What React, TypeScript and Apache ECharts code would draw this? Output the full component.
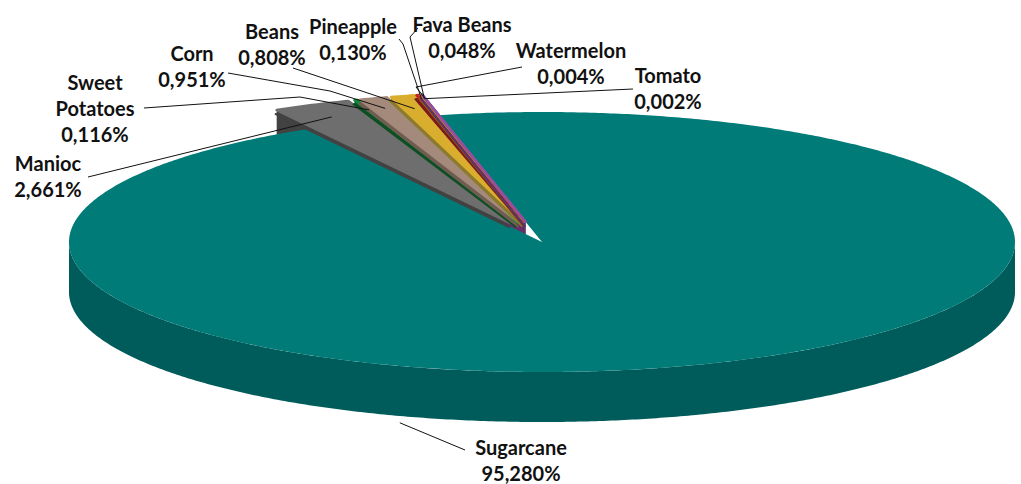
import React, { useEffect, useRef } from "react";
import * as echarts from "echarts";

// ---- data ----
const categories = ["Sugarcane", "Manioc", "Sweet Potatoes", "Corn", "Beans", "Pineapple", "Fava Beans", "Watermelon", "Tomato"];
const shares = [95.28, 2.661, 0.116, 0.951, 0.808, 0.13, 0.048, 0.004, 0.002];
const labelNames = ["Sugarcane", "Manioc", "Sweet\nPotatoes", "Corn", "Beans", "Pineapple", "Fava Beans", "Watermelon", "Tomato"];

// ---- styles ----
const topColors = ["#007B78", "#6E6E6E", "#0E8A3C", "#A48A7B", "#D9AD2D", "#C2272D", "#E58E12", "#3E5EA9", "#9B4C9E"];
const wallColors = ["#005B5B", "#424242", "#0B4F22", "#6F5D52", "#8C7A2E", "#7A1A1D", "#9A5E0A", "#283E70", "#653066"];

// ---- layout ----
const CX = 542, CY = 242, RX = 473, RY = 130, DEPTH = 50;
const START = 102.6; // angle of the first slice (degrees, counter-clockwise from 3 o'clock), slices run clockwise
const EXPLODE = 0.16;
// label block centre, elbow points, anchor (fraction along slice, radius, drop)
const labelLayout = [
  { x: 521, y: 460, via: [[465, 450]], anchor: [0.61, 1.05, DEPTH] },
  { x: 48, y: 176, via: [[88, 177]], anchor: [0.5, 0.9, 0] },
  { x: 95, y: 108, via: [[144, 108], [300, 97]], anchor: [0.5, 0.92, 0] },
  { x: 192, y: 66, via: [[228, 73], [330, 91]], anchor: [0.5, 0.92, 0] },
  { x: 272, y: 44, via: [[293, 68]], anchor: [0.5, 0.9, 0] },
  { x: 353, y: 39, via: [[399, 39], [403, 44]], anchor: [0.5, 0.97, 0] },
  { x: 462, y: 37, via: [[418, 28], [410, 37]], anchor: [0.5, 0.97, 0] },
  { x: 571, y: 63, via: [[522, 67], [416, 87]], anchor: [0.5, 0.97, 0] },
  { x: 668, y: 88, via: [[633, 89]], anchor: [0.5, 0.97, 0] },
];

const total = shares.reduce((a, b) => a + b, 0);
const angles: { a0: number; a1: number; ox: number; oy: number }[] = [];
{
  let a = START;
  shares.forEach((v, i) => {
    const span = (v / total) * 360;
    const a0 = a, a1 = a - span;
    const mid = ((a0 + a1) / 2) * Math.PI / 180;
    const e = i === 0 ? 0 : EXPLODE;
    angles.push({ a0, a1, ox: e * RX * Math.cos(mid), oy: -e * RY * Math.sin(mid) });
    a = a1;
  });
}

const rad = (d: number) => (d * Math.PI) / 180;
function pt(a: number, r: number, ox: number, oy: number, dy = 0) {
  return [CX + ox + r * RX * Math.cos(rad(a)), CY + oy + dy - r * RY * Math.sin(rad(a))];
}
function arcPts(a0: number, a1: number, r: number, ox: number, oy: number, dy = 0) {
  const n = Math.max(2, Math.ceil(Math.abs(a0 - a1) / 0.5));
  const out: number[][] = [];
  for (let k = 0; k <= n; k++) out.push(pt(a0 + ((a1 - a0) * k) / n, r, ox, oy, dy));
  return out;
}
const fmt = (v: number) => v.toFixed(3).replace(".", ",") + "%";

export default function App() {
  const ref = useRef<HTMLDivElement>(null);
  useEffect(() => {
    document.body.style.margin = "0";
    const chart = echarts.init(ref.current!, undefined, { renderer: "svg" });
    const data = shares.map((v, i) => [v, i]);

    const wallsItem = (params: any) => {
      const i = params.dataIndex;
      const g = angles[i];
      if (i === 0) {
        const lo = Math.max(g.a1, -180), hi = Math.min(g.a0, 0);
        const top = arcPts(hi, lo, 1, 0, 0);
        const bot = arcPts(lo, hi, 1, 0, 0, DEPTH);
        return { type: "polygon", shape: { points: top.concat(bot) }, style: { fill: wallColors[i] } };
      }
      const apex = [CX + g.ox, CY + g.oy];
      const rim = pt(g.a0, 1, g.ox, g.oy);
      return {
        type: "polygon",
        shape: { points: [apex, rim, [rim[0], rim[1] + DEPTH], [apex[0], apex[1] + DEPTH]] },
        style: { fill: wallColors[i] },
      };
    };

    const topsItem = (params: any) => {
      const i = params.dataIndex;
      const g = angles[i];
      const apex = [CX + g.ox, CY + g.oy];
      const pts = [apex].concat(arcPts(g.a0, g.a1, 1, g.ox, g.oy));
      if (i === 0) {
        return { type: "polygon", shape: { points: pts }, style: { fill: topColors[i] } };
      }
      const strip = pts.map((p) => [p[0] - 1, p[1] + 4]);
      return {
        type: "group",
        children: [
          { type: "polygon", shape: { points: strip }, style: { fill: wallColors[i], stroke: wallColors[i], lineWidth: 2, lineJoin: "round" } },
          { type: "polygon", shape: { points: pts }, style: { fill: topColors[i], stroke: topColors[i], lineWidth: 2.5, lineJoin: "round" } },
        ],
      };
    };

    const labelItem = (params: any, api: any) => {
      const i = params.dataIndex;
      const g = angles[i];
      const L = labelLayout[i];
      const [t, r, drop] = L.anchor;
      const a = g.a0 + (g.a1 - g.a0) * t;
      const end = pt(a, r, g.ox, g.oy, drop);
      return {
        type: "group",
        children: [
          { type: "polyline", shape: { points: L.via.concat([end]) }, style: { stroke: "#111", lineWidth: 1, fill: null } },
          {
            type: "text",
            style: {
              text: labelNames[i] + "\n" + fmt(api.value(0)),
              x: L.x,
              y: L.y,
              fill: "#111",
              fontSize: 20,
              fontWeight: "bold",
              fontFamily: "Lato",
              align: "center",
              verticalAlign: "middle",
              lineHeight: 26,
            },
          },
        ],
      };
    };

    chart.setOption({
      animation: false,
      series: [
        { type: "custom", name: "walls", coordinateSystem: "none", silent: true, z: 1, data, renderItem: wallsItem },
        { type: "custom", name: "tops", coordinateSystem: "none", silent: true, z: 2, data, renderItem: topsItem },
        { type: "custom", name: "labels", coordinateSystem: "none", silent: true, z: 3, data, renderItem: labelItem },
      ],
    });
    return () => chart.dispose();
  }, []);
  return <div ref={ref} style={{ width: 1021, height: 484 }} />;
}
